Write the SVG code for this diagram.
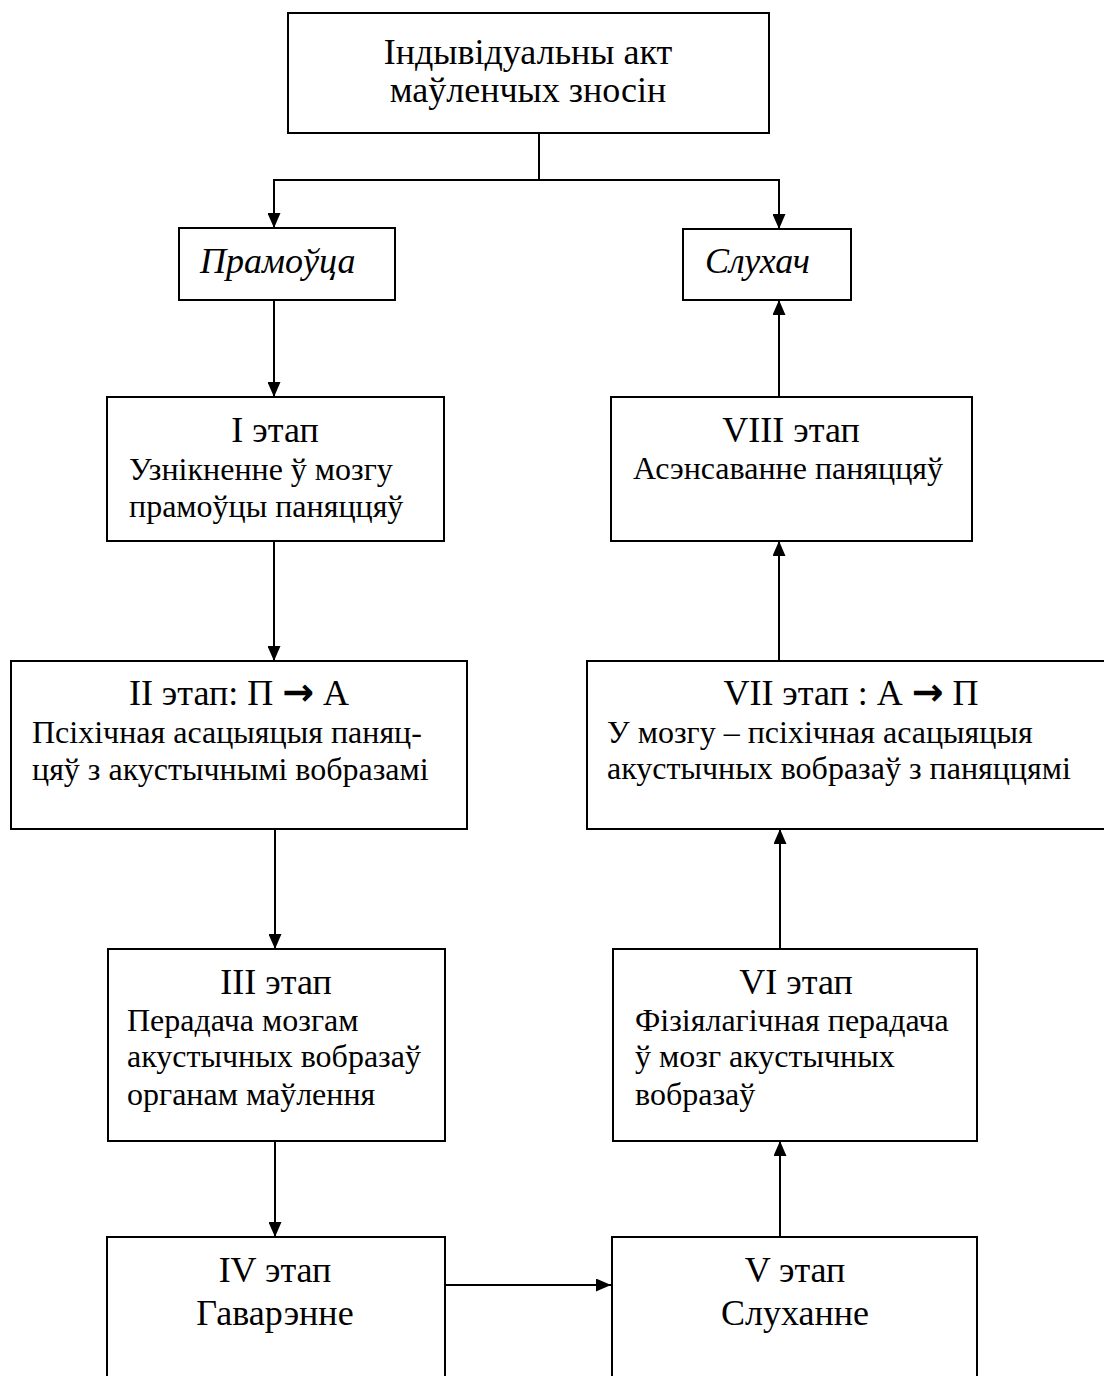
<svg xmlns="http://www.w3.org/2000/svg" width="1104" height="1376" viewBox="0 0 1104 1376">
<style>
.box{fill:#fff;stroke:#000;stroke-width:2}
.con{fill:none;stroke:#000;stroke-width:2}
text{font-family:"Liberation Serif","Times New Roman",serif;fill:#000}
.h{font-size:36px;text-anchor:middle}
.b{font-size:32px}
.i{font-style:italic;font-size:36px}
.arw{font-family:"DejaVu Sans",sans-serif;font-weight:bold;font-size:38px}
</style>
<defs>
<marker id="ah" markerUnits="userSpaceOnUse" markerWidth="15" markerHeight="13" refX="15" refY="6.5" orient="auto">
<path d="M0,0 L15,6.5 L0,13 z" fill="#000"/>
</marker>
</defs>
<rect width="1104" height="1376" fill="#fff"/>
<g id="connectors">
<path class="con" d="M539,133 V180 H274 V228" marker-end="url(#ah)"/>
<path class="con" d="M539,180 H779 V229" marker-end="url(#ah)"/>
<path class="con" d="M274,300 V397" marker-end="url(#ah)"/>
<path class="con" d="M274,541 V661" marker-end="url(#ah)"/>
<path class="con" d="M275,829 V949" marker-end="url(#ah)"/>
<path class="con" d="M275,1141 V1237" marker-end="url(#ah)"/>
<path class="con" d="M445,1285 H611" marker-end="url(#ah)"/>
<path class="con" d="M780,1237 V1141" marker-end="url(#ah)"/>
<path class="con" d="M780,949 V829" marker-end="url(#ah)"/>
<path class="con" d="M779,661 V541" marker-end="url(#ah)"/>
<path class="con" d="M779,397 V300" marker-end="url(#ah)"/>
</g>
<g id="top">
<rect class="box" x="288" y="13" width="481" height="120"/>
<text class="h" x="528" y="64">Індывідуальны акт</text>
<text class="h" x="528" y="102">маўленчых зносін</text>
</g>
<g id="speaker">
<rect class="box" x="179" y="228" width="216" height="72"/>
<text class="i" x="200" y="273">Прамоўца</text>
</g>
<g id="listener">
<rect class="box" x="683" y="229" width="168" height="71"/>
<text class="i" x="705" y="273">Слухач</text>
</g>
<g id="stage1">
<rect class="box" x="107" y="397" width="337" height="144"/>
<text class="h" x="275" y="442">І этап</text>
<text class="b" x="129" y="480">Узнікненне ў мозгу</text>
<text class="b" x="129" y="517">прамоўцы паняццяў</text>
</g>
<g id="stage2">
<rect class="box" x="11" y="661" width="456" height="168"/>
<text class="h" x="239" y="705">ІІ этап: П <tspan class="arw">→</tspan> А</text>
<text class="b" x="32" y="743">Псіхічная асацыяцыя паняц-</text>
<text class="b" x="32" y="780">цяў з акустычнымі вобразамі</text>
</g>
<g id="stage3">
<rect class="box" x="108" y="949" width="337" height="192"/>
<text class="h" x="276" y="994">ІІІ этап</text>
<text class="b" x="127" y="1031">Перадача мозгам</text>
<text class="b" x="127" y="1067">акустычных вобразаў</text>
<text class="b" x="127" y="1105">органам маўлення</text>
</g>
<g id="stage4">
<rect class="box" x="107" y="1237" width="338" height="160"/>
<text class="h" x="275" y="1282">ІV этап</text>
<text class="h" x="275" y="1325">Гаварэнне</text>
</g>
<g id="stage5">
<rect class="box" x="612" y="1237" width="365" height="160"/>
<text class="h" x="795" y="1282">V этап</text>
<text class="h" x="795" y="1325">Слуханне</text>
</g>
<g id="stage6">
<rect class="box" x="613" y="949" width="364" height="192"/>
<text class="h" x="796" y="994">VІ этап</text>
<text class="b" x="635" y="1031">Фізіялагічная перадача</text>
<text class="b" x="635" y="1067">ў мозг акустычных</text>
<text class="b" x="635" y="1105">вобразаў</text>
</g>
<g id="stage7">
<rect class="box" x="587" y="661" width="520" height="168"/>
<text class="h" x="851" y="705">VІІ этап : А <tspan class="arw">→</tspan> П</text>
<text class="b" x="607" y="743">У мозгу – псіхічная асацыяцыя</text>
<text class="b" x="607" y="779">акустычных вобразаў з паняццямі</text>
</g>
<g id="stage8">
<rect class="box" x="611" y="397" width="361" height="144"/>
<text class="h" x="791" y="442">VІІІ этап</text>
<text class="b" x="633" y="479">Асэнсаванне паняццяў</text>
</g>
</svg>
